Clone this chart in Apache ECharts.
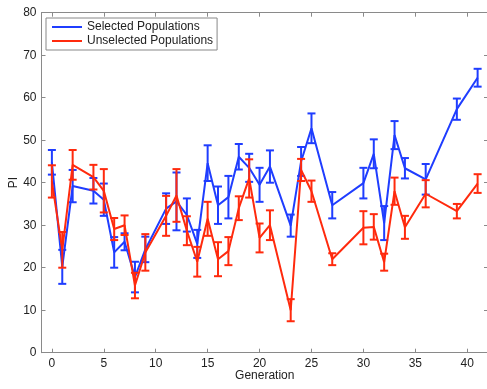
<!DOCTYPE html>
<html>
<head>
<meta charset="utf-8">
<script src="https://cdn.jsdelivr.net/npm/echarts@6/dist/echarts.min.js"></script>
<style>html,body{margin:0;padding:0;background:#fff;}#c{width:487px;height:389px;}</style>
</head>
<body>
<div id="c"></div>
<script>
// Data
const generations = [0,1,2,4,5,6,7,8,9,11,12,13,14,15,16,17,18,19,20,21,23,24,25,27,30,31,32,33,34,36,39,41];
const selMean = [44.8,20.2,39.2,38.1,36.0,23.6,26.1,17.8,24.3,33.9,35.6,32.4,25.6,44.6,34.7,36.6,46.1,43.5,39.5,43.8,29.9,45.0,52.8,34.7,39.9,46.8,30.5,51.2,43.4,40.8,57.3,64.7];
const selErr  = [2.9,4.0,3.8,3.0,3.8,3.6,2.0,3.6,3.0,3.6,6.8,3.9,3.3,4.2,4.4,5.0,3.0,3.3,4.0,3.8,2.6,3.4,3.5,3.1,3.6,3.4,4.0,3.3,2.4,3.6,2.5,2.1];
const unselMean = [40.3,24.2,44.2,41.3,38.1,29.1,30.0,15.8,23.6,32.2,37.0,28.7,21.4,31.5,22.0,23.9,34.0,41.0,27.0,30.0,10.0,43.0,38.0,22.0,29.4,29.6,21.3,38.0,29.5,37.4,33.3,39.8];
const unselErr  = [3.8,4.2,3.5,2.9,5.1,2.6,2.3,3.0,4.3,4.7,6.2,3.4,3.5,4.0,4.0,3.3,2.8,4.5,3.4,3.5,2.6,2.6,2.5,1.4,3.9,3.0,2.0,3.2,2.7,3.2,1.7,2.2];
const xTicks = [0,5,10,15,20,25,30,35,40];
const yTicks = [0,10,20,30,40,50,60,70,80];

const BLUE = '#1f3dff';
const RED = '#ff2a0d';
const AXC = '#8a8a8a';
const FONT = 'Liberation Sans, Arial, sans-serif';
const FS = 12;

function toPairs(m){ return generations.map((g,i)=>[g,m[i]]); }
function toErr(m,e){ return generations.map((g,i)=>[g,m[i],e[i]]); }

function errRender(color){
  return function(params, api){
    const x = api.value(0), m = api.value(1), e = api.value(2);
    const t = api.coord([x, m+e]);
    const b = api.coord([x, m-e]);
    const h = 4;
    const st = {stroke: color, lineWidth: 2};
    return {type:'group', children:[
      {type:'line', shape:{x1:t[0],y1:t[1],x2:b[0],y2:b[1]}, style:st},
      {type:'line', shape:{x1:t[0]-h,y1:t[1],x2:t[0]+h,y2:t[1]}, style:st},
      {type:'line', shape:{x1:b[0]-h,y1:b[1],x2:b[0]+h,y2:b[1]}, style:st}
    ]};
  };
}

const chart = echarts.init(document.getElementById('c'), null, {renderer:'canvas'});
const axisLine = {show:true, onZero:false, lineStyle:{color:AXC, width:1}};
chart.setOption({
  animation:false,
  backgroundColor:'#fff',
  textStyle:{fontFamily:FONT},
  grid:{left:41.5, right:-1, top:12.7, bottom:36.3, containLabel:false, outerBoundsMode:'none'},
  legend:{
    orient:'vertical', left:46, top:18,
    data:['Selected Populations','Unselected Populations'],
    backgroundColor:'#fff', borderColor:'#888', borderWidth:1,
    padding:[3,4,3,6], itemGap:2, itemWidth:30, itemHeight:2, icon:'rect',
    textStyle:{fontSize:FS, color:'#222', fontFamily:FONT}
  },
  xAxis:[
    {type:'value', min:-1, max:42, position:'bottom',
     name:'Generation', nameLocation:'middle', nameGap:17, nameMoveOverlap:false,
     nameTextStyle:{fontSize:FS, color:'#222', fontFamily:FONT},
     axisLine:axisLine,
     axisTick:{show:true, inside:true, length:4, lineStyle:{color:AXC}, customValues:xTicks},
     axisLabel:{show:true, margin:5, fontSize:FS, color:'#222', fontFamily:FONT, customValues:xTicks},
     splitLine:{show:false}},
    {type:'value', min:-1, max:42, position:'top',
     axisLine:axisLine,
     axisTick:{show:true, inside:true, length:4, lineStyle:{color:AXC}, customValues:xTicks},
     axisLabel:{show:false, customValues:xTicks},
     splitLine:{show:false}}
  ],
  yAxis:[
    {type:'value', min:0, max:80, interval:10, position:'left',
     name:'PI', nameLocation:'middle', nameGap:22, nameRotate:90, nameMoveOverlap:false,
     nameTextStyle:{fontSize:FS, color:'#222', fontFamily:FONT},
     axisLine:axisLine,
     axisTick:{show:true, inside:true, length:4, lineStyle:{color:AXC}},
     axisLabel:{show:true, margin:5, fontSize:FS, color:'#222', fontFamily:FONT,
       formatter:function(v){ return yTicks.indexOf(v)>=0 ? String(v) : ''; }},
     splitLine:{show:false}},
    {type:'value', min:0, max:80, interval:10, position:'right',
     axisLine:axisLine,
     axisTick:{show:true, inside:true, length:4, lineStyle:{color:AXC}},
     axisLabel:{show:false}, splitLine:{show:false}}
  ],
  series:[
    {name:'Selected Populations', type:'line', data:toPairs(selMean),
     showSymbol:false, symbol:'none', lineStyle:{color:BLUE, width:2}, itemStyle:{color:BLUE}, z:3},
    {name:'Unselected Populations', type:'line', data:toPairs(unselMean),
     showSymbol:false, symbol:'none', lineStyle:{color:RED, width:2}, itemStyle:{color:RED}, z:4},
    {name:'selErr', type:'custom', data:toErr(selMean, selErr), renderItem:errRender(BLUE),
     encode:{x:0, y:[1]}, z:3, silent:true},
    {name:'unselErr', type:'custom', data:toErr(unselMean, unselErr), renderItem:errRender(RED),
     encode:{x:0, y:[1]}, z:4, silent:true}
  ]
});
</script>
</body>
</html>
